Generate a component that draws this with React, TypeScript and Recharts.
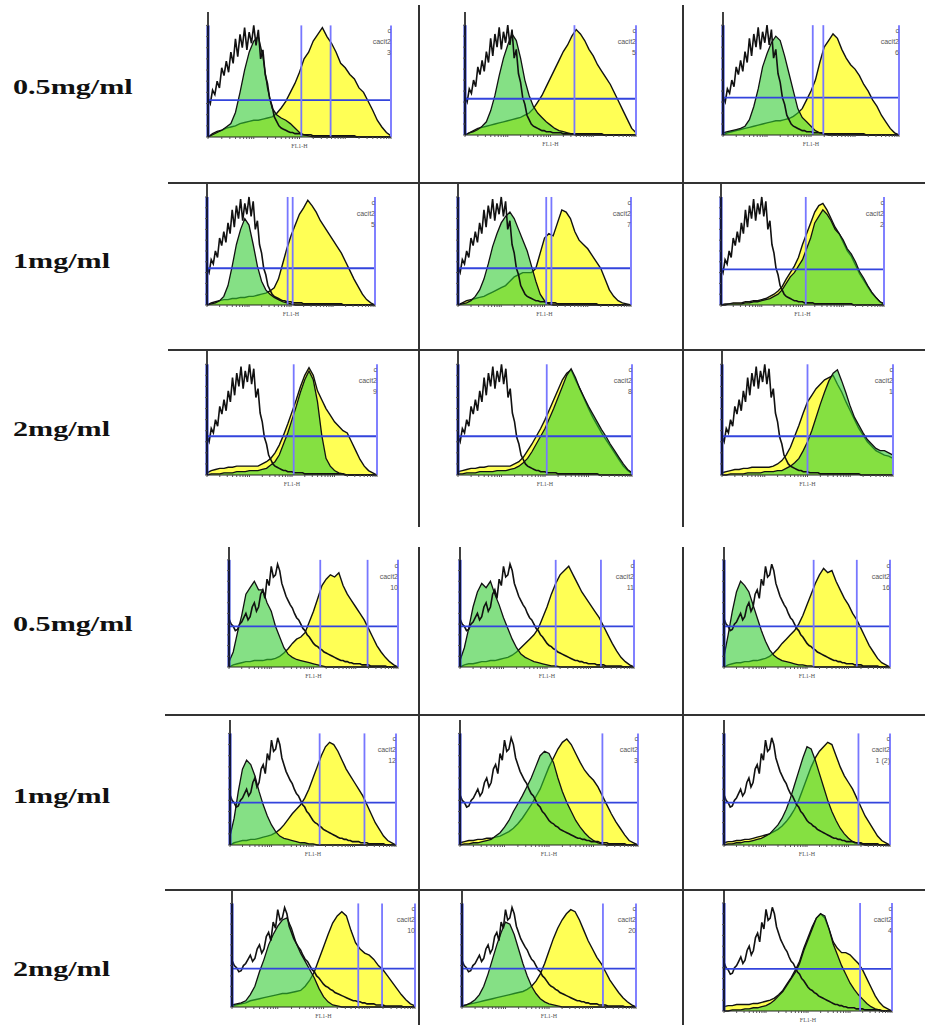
import React from 'react';
import { ComposedChart, Area, Line, XAxis, YAxis, ReferenceLine } from 'recharts';

// FL1-H bins, in decades (10^0 .. 10^4): control on a fine grid of 81, overlays on every other bin
const bins = Array.from({ length: 81 }, (_, i) => i * 0.05);

// unstained control (black outline), one per half of the figure, 81 points
const ctlTop = [35,30,42,38,50,44,62,55,68,58, 76,66,88,72,92,80,98,78,94,84, 100,82,96,70,78,56,48,34,28,18, 14,10,8,7,6,5,4,4,3,3, 3,2,2,2,2,2,1,1,1,1, 1,1,1,1,1,1,1,1,1,1, 1,1,1,1,1,0,0,0,0,0, 0,0,0,0,0,0,0,0,0,0, 0];
const ctlBot = [45,40,38,34,35,40,42,46,50,44, 47,56,60,52,56,68,72,64,82,76, 94,84,86,96,90,78,72,66,62,58, 55,50,46,44,40,36,34,30,28,25, 22,20,19,17,16,14,13,12,11,10, 9,8,7,6,6,5,5,4,4,3, 3,3,3,2,2,2,2,1,1,1, 1,1,1,1,1,0,0,0,0,0, 0];

// yellow / green overlays, row-col, 41 points
const yel11 = [0,3,5,6,8,9,10,12,13,14, 15,15,16,17,18,21,26,32,40,48, 58,70,76,86,92,98,90,84,76,66, 62,56,52,44,40,32,24,15,9,4, 1];
const grn11 = [0,2,4,6,9,12,22,40,60,76, 86,90,72,44,26,20,17,15,12,8, 4,2,1,0,0,0,0,0,0,0, 0,0,0,0,0,0,0,0,0,0, 0];
const yel12 = [0,2,4,6,7,8,9,10,11,12, 13,14,15,16,18,20,24,30,36,44, 52,60,68,76,82,90,96,92,86,78, 72,64,58,52,46,38,30,22,14,6, 2];
const grn12 = [0,2,3,5,8,12,22,36,54,70, 82,92,86,70,50,36,26,20,16,12, 9,6,4,3,2,1,0,0,0,0, 0,0,0,0,0,0,0,0,0,0, 0];
const yel13 = [0,2,3,4,5,6,7,8,9,10, 11,12,13,13,14,15,17,20,24,32, 40,50,66,80,86,92,88,78,70,64, 60,54,46,40,32,26,18,12,6,2, 0];
const grn13 = [2,3,4,5,6,8,14,26,42,62, 74,84,90,86,72,56,40,24,16,12, 8,4,2,1,0,0,0,0,0,0, 0,0,0,0,0,0,0,0,0,0, 0];

const yel21 = [0,2,3,4,5,5,6,6,7,7, 8,8,9,10,11,13,16,24,38,52, 64,74,84,90,97,92,86,78,72,66, 60,54,48,40,32,24,17,10,5,2, 0];
const grn21 = [0,1,2,4,8,18,36,56,70,80, 74,56,36,22,14,10,7,5,3,2, 1,0,0,0,0,0,0,0,0,0, 0,0,0,0,0,0,0,0,0,0, 0];
const yel22 = [0,2,4,5,6,7,8,10,12,14, 16,18,22,26,28,30,30,30,34,48, 62,66,64,76,88,86,80,68,60,56, 52,46,40,34,24,14,8,4,2,1, 0];
const grn22 = [0,1,2,4,8,14,24,38,54,66, 76,82,86,80,70,60,50,36,22,10, 4,1,0,0,0,0,0,0,0,0, 0,0,0,0,0,0,0,0,0,0, 0];
const yel23 = [0,1,1,2,2,2,3,3,4,4, 5,6,8,10,13,17,24,30,36,44, 56,66,76,86,92,94,88,80,72,66, 58,50,45,37,29,23,17,11,7,3, 1];
const grn23 = [0,0,1,1,1,1,2,2,3,3, 4,5,6,8,10,14,20,26,30,36, 42,52,62,76,82,88,84,78,70,66, 60,52,47,40,31,25,18,12,7,3, 1];

const yel31 = [2,4,5,6,6,7,7,8,8,8, 8,8,8,10,12,15,20,27,36,46, 57,68,80,90,97,90,76,68,60,54, 48,44,40,38,30,22,14,8,4,2, 0];
const grn31 = [0,1,1,1,2,2,2,3,3,3, 4,4,4,5,6,9,12,18,28,38, 50,62,75,86,94,86,66,36,15,8, 4,2,1,0,0,0,0,0,0,0, 0];
const yel32 = [3,4,5,6,6,7,7,8,8,8, 8,8,8,10,12,16,22,28,35,42, 50,59,68,77,86,92,95,86,78,69, 60,52,45,38,32,26,20,14,8,4, 1];
const grn32 = [1,1,2,2,2,3,3,3,3,4, 4,4,5,6,8,11,15,21,28,35, 42,51,60,70,80,90,96,88,78,70, 62,55,48,41,35,28,22,16,10,5, 2];
const yel33 = [2,3,4,5,5,6,6,7,7,7, 7,7,8,10,13,18,25,35,45,56, 66,72,78,82,86,88,90,82,75,66, 58,50,42,36,30,26,22,20,18,17, 15];
const grn33 = [0,0,1,1,1,1,2,2,2,2, 3,3,3,4,4,6,8,11,15,22, 30,40,52,64,75,85,92,95,85,74, 62,52,45,38,32,28,24,22,22,20, 18];

const yel41 = [0,2,3,4,5,5,6,6,6,7, 7,8,10,13,17,22,26,28,32,42, 52,64,76,82,86,84,88,76,68,62, 56,50,44,36,28,20,14,9,5,2, 0];
const grn41 = [5,14,32,48,68,74,80,72,72,60, 52,38,28,18,12,9,7,6,5,4, 3,2,1,0,0,0,0,0,0,0, 0,0,0,0,0,0,0,0,0,0, 0];
const yel42 = [0,2,3,3,4,5,5,6,6,7, 8,9,11,14,18,22,26,30,36,46, 56,68,78,86,90,94,86,78,70,64, 58,52,46,38,30,22,15,9,5,2, 0];
const grn42 = [6,18,36,56,70,78,74,80,68,58, 46,36,26,18,12,9,7,5,4,3, 2,1,1,0,0,0,0,0,0,0, 0,0,0,0,0,0,0,0,0,0, 0];
const yel43 = [0,2,3,4,4,5,5,6,6,7, 8,10,13,17,22,26,30,34,40,48, 58,68,78,86,92,88,90,80,72,64, 58,50,44,36,28,20,14,8,4,2, 0];
const grn43 = [10,30,52,70,80,76,70,58,46,34, 24,16,11,8,6,5,4,3,2,2, 1,1,0,0,0,0,0,0,0,0, 0,0,0,0,0,0,0,0,0,0, 0];

const yel51 = [0,2,3,4,4,5,5,6,7,8, 9,11,14,18,23,28,32,36,42,50, 60,70,80,88,92,90,84,76,68,62, 56,50,44,36,28,20,14,8,4,2, 0];
const grn51 = [8,24,48,68,76,72,62,48,36,26, 18,12,8,6,5,4,3,2,2,1, 1,0,0,0,0,0,0,0,0,0, 0,0,0,0,0,0,0,0,0,0, 0];
const yel52 = [2,3,4,4,5,5,6,6,7,8, 10,12,15,19,24,30,36,43,50,60, 70,78,86,92,95,90,82,74,67,62, 58,52,44,36,28,21,15,9,4,2, 0];
const grn52 = [0,1,1,2,2,3,4,5,8,11, 16,22,30,37,44,52,60,70,80,84, 82,74,60,48,38,30,22,16,11,7, 4,2,1,0,0,0,0,0,0,0, 0];
const yel53 = [2,3,3,4,4,5,5,6,7,8, 9,10,12,14,17,21,26,32,40,50, 60,70,78,84,88,92,90,80,70,62, 56,50,42,34,26,20,14,8,4,2, 0];
const grn53 = [0,1,1,2,2,3,3,4,5,6, 8,10,14,18,24,32,42,54,66,78, 88,86,76,64,52,40,30,22,15,10, 6,3,2,1,0,0,0,0,0,0, 0];

const yel61 = [1,2,3,4,6,7,8,9,10,11, 12,13,13,14,15,16,20,26,34,46, 58,70,81,88,92,88,74,62,56,52, 50,46,40,36,30,24,18,12,7,3, 1];
const grn61 = [2,3,4,6,12,20,34,46,60,70, 78,84,86,76,62,52,44,36,28,18, 10,5,2,1,0,0,0,0,0,0, 0,0,0,0,0,0,0,0,0,0, 0];
const yel62 = [1,2,3,4,5,6,7,8,9,10, 11,12,13,14,15,17,20,25,32,42, 54,66,76,84,90,94,92,84,74,64, 56,48,42,34,26,20,14,9,5,2, 0];
const grn62 = [1,2,4,7,12,20,32,46,60,72, 82,80,70,56,42,30,20,13,8,5, 3,2,1,0,0,0,0,0,0,0, 0,0,0,0,0,0,0,0,0,0, 0];
const yel63 = [4,5,5,6,6,6,6,7,7,8, 9,10,12,15,19,25,31,38,46,58, 68,78,86,90,86,76,64,58,54,54, 52,48,44,38,30,22,14,8,4,2, 0];
const grn63 = [0,0,1,1,1,2,2,3,3,4, 5,7,10,14,18,24,30,36,44,56, 66,76,86,90,88,76,62,52,42,34, 26,20,15,11,7,4,2,1,0,0, 0];

// marker gates (decades), horizontal gate level, and the small sample tag
const gates = [
  [2.04, 2.68], [2.56], [2.04, 2.28],
  [1.92, 2.04], [2.04, 2.16], [2.08],
  [2.04], [2.04], [2.0],
  [2.16, 3.28], [2.2, 3.24], [2.16, 3.2],
  [2.16, 3.24], [3.2], [3.24],
  [2.76, 3.28], [3.24], [3.24],
];
const levels = [33, 33, 34, 34, 34, 33, 35, 35, 35, 38, 38, 38, 38, 38, 38, 37, 37, 39];
const tags = ['3', '5', '6', '5', '7', '2', '9', '8', '1', '10', '11', '16', '12', '3', '1 (2)', '10', '20', '4'];
const doses = ['0.5mg/ml', '1mg/ml', '2mg/ml', '0.5mg/ml', '1mg/ml', '2mg/ml'];

const series = [
  [ctlTop, yel11, grn11], [ctlTop, yel12, grn12], [ctlTop, yel13, grn13],
  [ctlTop, yel21, grn21], [ctlTop, yel22, grn22], [ctlTop, yel23, grn23],
  [ctlTop, yel31, grn31], [ctlTop, yel32, grn32], [ctlTop, yel33, grn33],
  [ctlBot, yel41, grn41], [ctlBot, yel42, grn42], [ctlBot, yel43, grn43],
  [ctlBot, yel51, grn51], [ctlBot, yel52, grn52], [ctlBot, yel53, grn53],
  [ctlBot, yel61, grn61], [ctlBot, yel62, grn62], [ctlBot, yel63, grn63],
];

// panel boxes on the page: left, right, top of gate, baseline
const boxes = [
  [208, 391, 25, 137], [465, 636, 25, 135], [723, 899, 25, 135],
  [207, 375, 197, 305], [458, 631, 197, 305], [721, 884, 197, 305],
  [207, 377, 364, 475], [458, 632, 364, 475], [722, 893, 364, 475],
  [229, 398, 560, 667], [460, 634, 560, 667], [724, 890, 560, 667],
  [230, 396, 733, 845], [460, 638, 733, 845], [724, 890, 733, 845],
  [232, 415, 903, 1007], [462, 636, 903, 1007], [724, 892, 903, 1011],
];
const labelTops = [75, 249, 417, 612, 784, 957];

const logTicks: number[] = [];
for (let d = 0; d < 4; d++) for (let k = 1; k < 10; k++) logTicks.push(d + Math.log10(k));
logTicks.push(4);
const yTicks = [0, 10, 20, 30, 40, 50, 60, 70, 80, 90, 100];

const blank = () => '';

function Histo({ idx }: { idx: number }) {
  const [l, r, t, b] = boxes[idx];
  const [ctl, yel, grn] = series[idx];
  const axW = 6;
  const axH = 11;
  const plotH = Math.round((b - t) * 1.12);
  const rows = bins.map((x, i) => ({
    x,
    ctl: ctl[i],
    yel: i % 2 === 0 ? yel[i / 2] : undefined,
    grn: i % 2 === 0 ? grn[i / 2] : undefined,
  }));
  const lvl = levels[idx];
  return (
    <>
      <div style={{ position: 'absolute', left: l - axW, top: b - plotH }}>
        <ComposedChart
          width={r - l + axW + 3}
          height={plotH + axH}
          data={rows}
          margin={{ top: 0, right: 3, bottom: 0, left: 0 }}
        >
          <XAxis
            type="number"
            dataKey="x"
            domain={[0, 4]}
            ticks={logTicks}
            interval={0}
            tickSize={2}
            tickFormatter={blank}
            height={axH}
            axisLine={{ stroke: '#222', strokeWidth: 1.2 }}
            tickLine={{ stroke: '#555' }}
            label={{ value: 'FL1-H', position: 'insideBottom', offset: 0, fontSize: 6, fill: '#555' }}
          />
          <YAxis
            type="number"
            domain={[0, 112]}
            ticks={yTicks}
            interval={0}
            width={axW}
            tickSize={2}
            tickFormatter={blank}
            axisLine={{ stroke: '#111', strokeWidth: 1.6 }}
            tickLine={{ stroke: '#555' }}
          />
          <Area type="linear" dataKey="yel" connectNulls fill="#ffff55" fillOpacity={1} stroke="#111" strokeWidth={1.4} isAnimationActive={false} />
          <Area type="linear" dataKey="grn" connectNulls fill="#33cc33" fillOpacity={0.6} stroke="#111" strokeWidth={1.3} isAnimationActive={false} />
          <Line type="linear" dataKey="ctl" stroke="#111" strokeWidth={1.6} dot={false} activeDot={false} isAnimationActive={false} />
          <ReferenceLine segment={[{ x: 0, y: lvl }, { x: 4, y: lvl }]} stroke="#3344dd" strokeWidth={1.8} ifOverflow="visible" />
          {gates[idx].map((g, k) => (
            <ReferenceLine key={k} segment={[{ x: g, y: 0 }, { x: g, y: 100 }]} stroke="#7777ff" strokeWidth={1.8} ifOverflow="visible" />
          ))}
          <ReferenceLine segment={[{ x: 4, y: 0 }, { x: 4, y: 100 }]} stroke="#8080ff" strokeWidth={2} ifOverflow="visible" />
          <ReferenceLine segment={[{ x: 0, y: 0 }, { x: 0, y: 100 }]} stroke="#2233cc" strokeWidth={3} ifOverflow="visible" />
        </ComposedChart>
      </div>
      <div
        style={{
          position: 'absolute',
          left: r - 42,
          width: 42,
          top: t,
          textAlign: 'right',
          fontFamily: '"Liberation Sans", sans-serif',
          fontSize: 7,
          lineHeight: '11px',
          color: '#555',
        }}
      >
        c<br />cacit2<br />{tags[idx]}
      </div>
    </>
  );
}

const rule = (left: number, top: number, width: number, height: number) => (
  <div style={{ position: 'absolute', left, top, width, height, background: '#333' }} />
);

export default function App() {
  return (
    <div style={{ position: 'absolute', left: 0, top: 0, width: 925, height: 1025, background: '#fff' }}>
      {rule(168, 182, 757, 2)}
      {rule(168, 349, 757, 2)}
      {rule(165, 714, 760, 2)}
      {rule(165, 889, 760, 2)}
      {rule(418, 5, 2, 522)}
      {rule(682, 5, 2, 522)}
      {rule(418, 547, 2, 478)}
      {rule(682, 547, 2, 478)}
      {doses.map((d, i) => (
        <div
          key={i}
          style={{
            position: 'absolute',
            left: 13,
            top: labelTops[i],
            fontFamily: '"Liberation Serif", serif',
            fontWeight: 'bold',
            fontSize: 22,
            lineHeight: '24px',
            transform: 'scaleX(1.37)',
            transformOrigin: 'left',
            whiteSpace: 'nowrap',
            color: '#111',
          }}
        >
          {d}
        </div>
      ))}
      {boxes.map((_, i) => (
        <Histo key={i} idx={i} />
      ))}
    </div>
  );
}
